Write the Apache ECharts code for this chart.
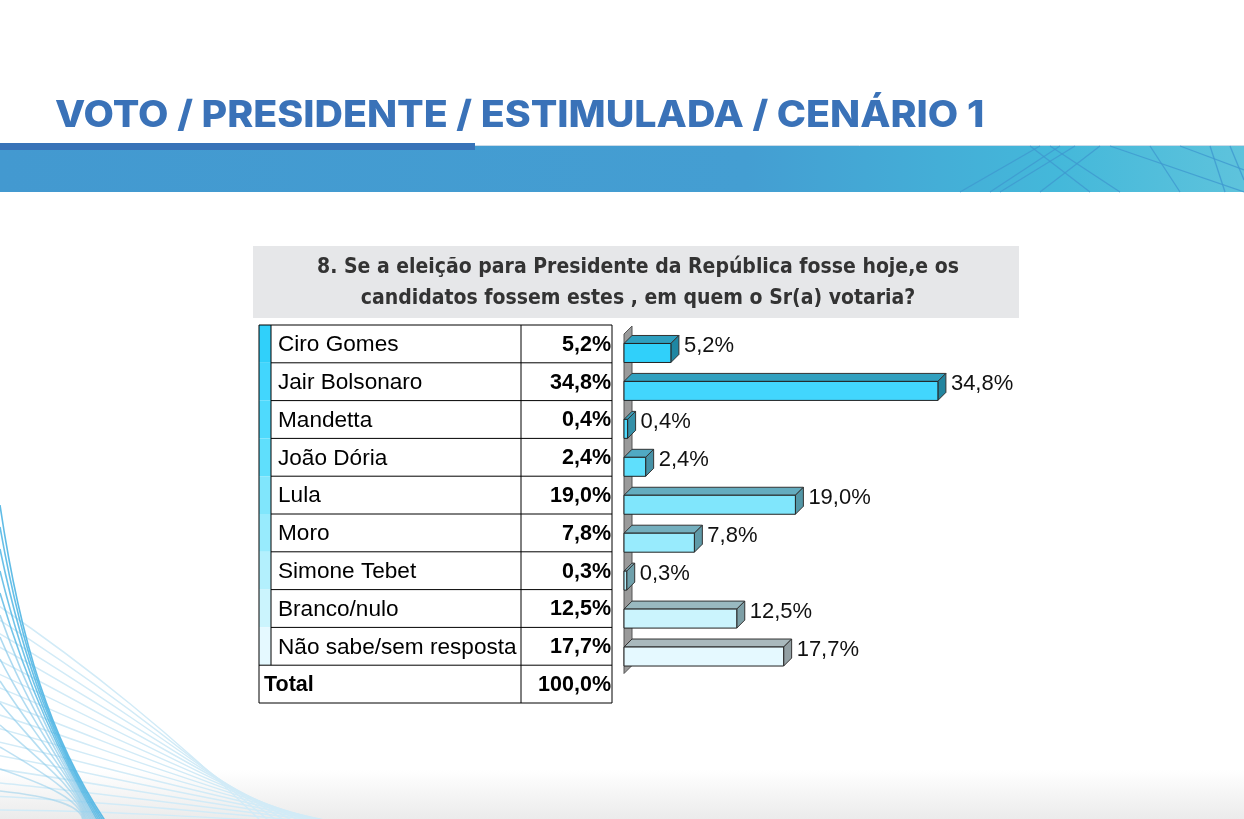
<!DOCTYPE html>
<html>
<head>
<meta charset="utf-8">
<title>Voto / Presidente / Estimulada / Cenário 1</title>
<script src="https://cdn.jsdelivr.net/npm/echarts@6/dist/echarts.min.js"></script>
<style>
  html, body { margin: 0; padding: 0; background: #fff; }
  #main { width: 1244px; height: 819px; }
</style>
</head>
<body>
<div id="main"></div>
<script>
// dados da pesquisa
var candidatos = ['Ciro Gomes', 'Jair Bolsonaro', 'Mandetta', 'João Dória', 'Lula', 'Moro',
                  'Simone Tebet', 'Branco/nulo', 'Não sabe/sem resposta'];
var percentuais = [5.2, 34.8, 0.4, 2.4, 19.0, 7.8, 0.3, 12.5, 17.7];
var totalLabel = 'Total';
var totalValor = 100.0;

var titulo = 'VOTO / PRESIDENTE / ESTIMULADA / CENÁRIO 1';
var pergunta = ['8. Se a eleição para Presidente da República fosse hoje,e os',
                'candidatos fossem estes , em quem o Sr(a) votaria?'];

// cores das barras (frente / topo / lateral)
var corFrente = ['#30d0fa', '#42d6fd', '#4fdafd', '#5fdffc', '#80e6fc', '#98ebfd', '#b3f0fd', '#cbf4fd', '#e5f9ff'];
var corTopo   = ['#2e9fbf', '#31a0bf', '#3a9fba', '#50a9c3', '#64acbf', '#74afbe', '#86b2bd', '#99b9c0', '#a9b9bd'];
var corLado   = ['#1f87a3', '#23859f', '#3590a8', '#4691a6', '#5397a7', '#5f9aa8', '#6fa0ab', '#7e9fa6', '#929fa3'];

function fmt(v) {
    return v.toFixed(1).replace('.', ',') + '%';
}

var chart = echarts.init(document.getElementById('main'));

// ---- tabela ----
function montaTabela() {
    var g = [];
    var x0 = 259, xs = 271, xm = 521, x1 = 612, y0 = 325, rh = 37.8;
    var n = candidatos.length;
    var yEnd = y0 + rh * (n + 1);
    var fNome = '22.6px "Liberation Sans", Arial';
    var fNum = 'bold 21.5px "Liberation Sans", Arial';
    for (var i = 0; i < n; i++) {
        var yy = y0 + rh * i;
        g.push({ type: 'rect', shape: { x: x0, y: yy, width: xs - x0, height: rh }, style: { fill: corFrente[i] }, z: 10 });
        g.push({ type: 'text', x: 278, y: yy + rh / 2 + 1, style: { text: candidatos[i], font: fNome, fill: '#000', verticalAlign: 'middle' }, z: 12 });
        g.push({ type: 'text', x: 611, y: yy + rh / 2 + 1, style: { text: fmt(percentuais[i]), font: fNum, fill: '#000', align: 'right', verticalAlign: 'middle' }, z: 12 });
        if (i > 0) {
            g.push({ type: 'line', shape: { x1: xs, y1: yy, x2: x1, y2: yy }, style: { stroke: '#000', lineWidth: 1 }, z: 11 });
        }
    }
    var yt = y0 + rh * n;
    g.push({ type: 'text', x: 264, y: yt + rh / 2 + 1, style: { text: totalLabel, font: 'bold 21.5px "Liberation Sans", Arial', fill: '#000', verticalAlign: 'middle' }, z: 12 });
    g.push({ type: 'text', x: 611, y: yt + rh / 2 + 1, style: { text: fmt(totalValor), font: fNum, fill: '#000', align: 'right', verticalAlign: 'middle' }, z: 12 });
    g.push({ type: 'line', shape: { x1: x0, y1: yt, x2: x1, y2: yt }, style: { stroke: '#000', lineWidth: 1 }, z: 11 });
    g.push({ type: 'line', shape: { x1: xs, y1: y0, x2: xs, y2: yt }, style: { stroke: '#000', lineWidth: 1 }, z: 11 });
    g.push({ type: 'line', shape: { x1: xm, y1: y0, x2: xm, y2: yEnd }, style: { stroke: '#000', lineWidth: 1 }, z: 11 });
    g.push({ type: 'rect', shape: { x: x0, y: y0, width: x1 - x0, height: yEnd - y0 }, style: { fill: 'none', stroke: '#000', lineWidth: 1 }, z: 11 });
    return g;
}

// ---- enfeites do fundo ----
function montaFundo() {
    var g = [];
    // degradê cinza no rodapé
    g.push({ type: 'rect', shape: { x: 0, y: 770, width: 1244, height: 49 },
        style: { fill: new echarts.graphic.LinearGradient(0, 0, 0, 1, [{ offset: 0, color: '#ffffff' }, { offset: 1, color: '#ebebeb' }]) }, z: 0 });
    // curvas azuis (canto inferior esquerdo)
    for (var k = 0; k < 16; k++) {
        g.push({ type: 'bezierCurve', shape: { x1: -10, y1: 600 + k * 14, cpx1: 80, cpy1: 660 + k * 10, cpx2: 180, cpy2: 740 + k * 5, x2: 270 + k * 10, y2: 830 },
            style: { stroke: '#d2ebf7', lineWidth: 1.5, fill: 'none' }, z: 1 });
    }
    for (var j = 0; j < 14; j++) {
        g.push({ type: 'bezierCurve', shape: { x1: 0, y1: 505 + j * 22, cpx1: 20 + j * 2, cpy1: 640 + j * 12, cpx2: 50 + j * 3, cpy2: 740 + j * 5, x2: 108 - j * 2, y2: 825 },
            style: { stroke: j < 5 ? '#4fb5e3' : '#8ccbea', lineWidth: 1.6, fill: 'none', opacity: 0.9 - j * 0.03 }, z: 1 });
    }
    // faixa azul
    g.push({ type: 'rect', shape: { x: 0, y: 146, width: 1244, height: 46 },
        style: { fill: new echarts.graphic.LinearGradient(0, 0, 1, 0, [
            { offset: 0, color: '#4399d0' }, { offset: 0.6, color: '#449ed2' },
            { offset: 0.85, color: '#44b8da' }, { offset: 1, color: '#5ec3dc' }]) }, z: 2 });
    g.push({ type: 'line', shape: { x1: 475, y1: 145.5, x2: 1244, y2: 145.5 }, style: { stroke: '#cbdbe8', lineWidth: 1 }, z: 3 });
    // linhas cruzadas da faixa
    var cruz = [[1180, 146, 1244, 170], [1110, 146, 1244, 192], [1050, 146, 1120, 192], [1030, 146, 1090, 192],
                [1150, 146, 1180, 192], [1210, 146, 1225, 192], [990, 192, 1060, 146], [960, 192, 1040, 146],
                [1000, 192, 1075, 146], [1040, 192, 1100, 146], [1230, 146, 1244, 180]];
    cruz.forEach(function (c) {
        g.push({ type: 'line', shape: { x1: c[0], y1: c[1], x2: c[2], y2: c[3] }, style: { stroke: '#3f98cf', lineWidth: 1.3, opacity: 0.8 }, z: 3 });
    });
    g.push({ type: 'rect', shape: { x: 0, y: 143, width: 475, height: 7 }, style: { fill: '#3873b8' }, z: 4 });
    // título
    g.push({ type: 'text', x: 55, y: 116, scaleX: 1.064, originX: 0, originY: 0,
        style: { text: titulo, font: '800 37px Inter, "Open Sans", sans-serif', fill: '#3a72b8', verticalAlign: 'middle' }, z: 5 });
    // caixa da pergunta
    g.push({ type: 'rect', shape: { x: 253, y: 246, width: 766, height: 72 }, style: { fill: '#e6e7e9' }, z: 5 });
    var fP = 'bold 21px "DejaVu Sans Condensed", "DejaVu Sans", sans-serif';
    g.push({ type: 'text', x: 638, y: 268, style: { text: pergunta[0], font: fP, fill: '#333', align: 'center', verticalAlign: 'middle' }, z: 6 });
    g.push({ type: 'text', x: 638, y: 299, style: { text: pergunta[1], font: fP, fill: '#333', align: 'center', verticalAlign: 'middle' }, z: 6 });
    return g;
}

// ---- barras 3D ----
var PROF = 8, ALT = 19;
function barra3d(params, api) {
    var i = params.dataIndex;
    var v = api.value(0), c = api.value(1);
    var p0 = api.coord([0, c]);
    var p1 = api.coord([v, c]);
    var x0 = p0[0], x1 = p1[0];
    var yt = p0[1] - ALT / 2, yb = p0[1] + ALT / 2;
    return {
        type: 'group',
        children: [
            { type: 'polygon', shape: { points: [[x0, yt], [x1, yt], [x1 + PROF, yt - PROF], [x0 + PROF, yt - PROF]] },
              style: { fill: corTopo[i], stroke: '#333', lineWidth: 1 } },
            { type: 'polygon', shape: { points: [[x1, yt], [x1 + PROF, yt - PROF], [x1 + PROF, yb - PROF], [x1, yb]] },
              style: { fill: corLado[i], stroke: '#333', lineWidth: 1 } },
            { type: 'rect', shape: { x: x0, y: yt, width: x1 - x0, height: ALT },
              style: { fill: corFrente[i], stroke: '#222', lineWidth: 1 } },
            { type: 'text', x: x1 + PROF + 5, y: p0[1] - 7,
              style: { text: fmt(v), font: '22px "Liberation Sans", Arial', fill: '#111', verticalAlign: 'middle' } }
        ]
    };
}

function parede(params, api) {
    var cs = params.coordSys;
    var x = cs.x, yt = cs.y, yb = cs.y + cs.height - 2;
    return {
        type: 'polygon',
        shape: { points: [[x, yt], [x + PROF, yt - PROF], [x + PROF, yb - PROF], [x, yb]] },
        style: { fill: '#9a9a9a', stroke: '#555', lineWidth: 1 }
    };
}

var option = {
    animation: false,
    backgroundColor: '#ffffff',
    grid: { left: 624, top: 334, width: 360.8, height: 341.5 },
    xAxis: { type: 'value', min: 0, max: 40, show: false },
    yAxis: { type: 'category', data: candidatos, inverse: true, show: false },
    graphic: montaFundo().concat(montaTabela()),
    series: [
        { type: 'custom', renderItem: parede, data: [[0, 0]], z: 2, silent: true },
        { type: 'custom', renderItem: barra3d, z: 3,
          data: percentuais.map(function (v, i) { return [v, i]; }) }
    ]
};

chart.setOption(option);
</script>
</body>
</html>
